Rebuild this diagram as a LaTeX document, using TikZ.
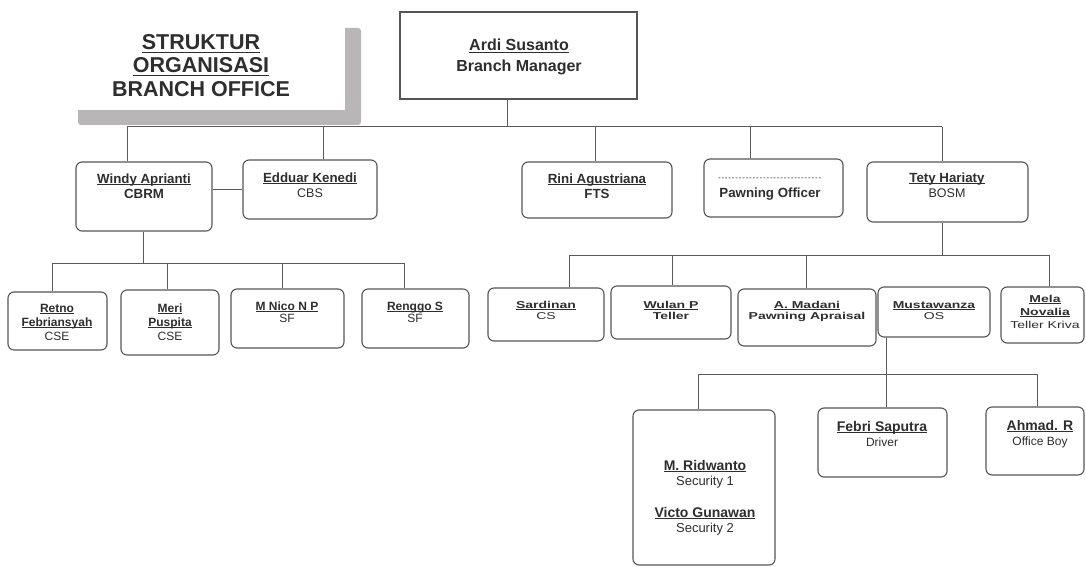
\documentclass[tikz,border=0pt]{standalone}
\usepackage{fontspec}
\setmainfont{Liberation Sans}
\newfontfamily\widefont{Liberation Sans}[FakeStretch=1.4]
\definecolor{boxc}{HTML}{555555}
\definecolor{linec}{HTML}{5A5A5A}
\definecolor{txtc}{HTML}{2E2E2E}
\definecolor{shadowc}{HTML}{B9B6B8}
\newcommand\orgbox[6][obox]{\node[#1, minimum width={(#5-#3)*1pt}, minimum height={(#6-#4)*1pt}] (#2) at ({(#3+#5)/2},{(#4+#6)/2}) {};}
\newcommand\dashrow{\foreach \i in {1,...,30}{-\kern0.8pt}}
\newsavebox{\myulbox}
\newcommand\myul[1]{\sbox\myulbox{#1}\rlap{\rule[-1.8pt]{\wd\myulbox}{0.75pt}}\usebox\myulbox}
\newcommand\myulbig[1]{\sbox\myulbox{#1}\rlap{\rule[-2.8pt]{\wd\myulbox}{1.1pt}}\usebox\myulbox}
\begin{document}
\begin{tikzpicture}[x=1pt,y=-1pt,
  obox/.style={draw=boxc, line width=1.1pt, rounded corners=6pt, inner sep=0pt},
  sbox/.style={draw=boxc, line width=1.1pt, inner sep=0pt},
  link/.style={draw=linec, line width=1pt},
  txt/.style={anchor=base, inner sep=0pt, text=txtc, align=center},
  ttl/.style={txt, font=\bfseries\fontsize{21.5}{24}\selectfont},
  mgr/.style={txt, font=\bfseries\fontsize{16}{18}\selectfont},
  lonen/.style={txt, font=\bfseries\fontsize{13.3}{15}\selectfont},
  loner/.style={txt, font=\fontsize{12.5}{15}\selectfont},
  ltwon/.style={txt, font=\bfseries\fontsize{12}{14}\selectfont},
  ltwor/.style={txt, font=\fontsize{12}{14}\selectfont},
  lrn/.style={txt, font=\widefont\bfseries\fontsize{10}{12}\selectfont},
  lrr/.style={txt, font=\widefont\fontsize{10}{12}\selectfont},
  lthn/.style={txt, font=\bfseries\fontsize{14}{16}\selectfont},
  lthr/.style={txt, font=\fontsize{13}{15}\selectfont}
]
\useasboundingbox (0,0) rectangle (1086,567);
\fill[white] (0,0) rectangle (1086,567);

% title with shadow
\fill[shadowc, rounded corners=3pt] (78,28) rectangle (361,125);
\fill[white] (64,16) rectangle (345,110);
\node[ttl] (t1) at (201,50) {\myulbig{STRUKTUR}};
\node[ttl] (t2) at (201,73) {\myulbig{ORGANISASI}};
\node[ttl] (t3) at (201,97) {BRANCH OFFICE};

% boxes
\orgbox[sbox]{ardi}{400}{12}{637}{99}
\orgbox{windy}{76}{162}{212}{231}
\orgbox{edduar}{243}{160}{377}{219}
\orgbox{rini}{522}{162}{672}{218}
\orgbox{pawn}{704}{159}{843}{217}
\orgbox{tety}{867}{162}{1028}{222}
\orgbox{retno}{8}{292}{107}{350}
\orgbox{meri}{121}{290}{219}{355}
\orgbox{nico}{231}{289}{344}{348}
\orgbox{renggo}{362}{289}{469}{348}
\orgbox{sardinan}{488}{288}{604}{341}
\orgbox{wulan}{611}{286}{731}{339}
\orgbox{madani}{738}{289}{876}{346}
\orgbox{musta}{878}{287}{990}{337}
\orgbox{mela}{1001}{287}{1084}{343}
\orgbox{ridwan}{633}{410}{775}{565}
\orgbox{febri}{818}{408}{947}{477}
\orgbox{ahmad}{986}{407}{1084}{475}

% texts
\node[mgr] (ardin) at (519,51) {\myul{Ardi Susanto}};
\node[mgr] (ardir) at (519,72) {Branch Manager};
\node[lonen] (windyn) at (144,183) {\myul{Windy Aprianti}};
\node[lonen] (windyr) at (144,198) {CBRM};
\node[lonen] (eddn) at (310,182) {\myul{Edduar Kenedi}};
\node[loner] (eddr) at (310,197) {CBS};
\node[lonen] (rinin) at (597,183) {\myul{Rini Agustriana}};
\node[lonen] (rinir) at (597,198) {FTS};
\node[txt, font=\fontsize{8}{9}\selectfont] (pawnd) at (770,180) {\dashrow};
\node[lonen] (pawnr) at (770,197) {Pawning Officer};
\node[lonen] (tetyn) at (947,182) {\myul{Tety Hariaty}};
\node[loner] (tetyr) at (947,197) {BOSM};

\node[ltwon] (retn1) at (57,312) {\myul{Retno}};
\node[ltwon] (retn2) at (57,326) {\myul{Febriansyah}};
\node[ltwor] (retr) at (57,340) {CSE};
\node[ltwon] (meri1) at (170,312) {\myul{Meri}};
\node[ltwon] (meri2) at (170,326) {\myul{Puspita}};
\node[ltwor] (merir) at (170,340) {CSE};
\node[ltwon] (nicon) at (287,310) {\myul{M Nico N P}};
\node[ltwor] (nicor) at (287,322) {SF};
\node[ltwon] (rengn) at (415,310) {\myul{Renggo S}};
\node[ltwor] (rengr) at (415,322) {SF};

\node[lrn] (sardn) at (546,308) {\myul{Sardinan}};
\node[lrr] (sardr) at (546,319) {CS};
\node[lrn] (wulann) at (671,308) {\myul{Wulan P}};
\node[lrn] (wulanr) at (671,319) {Teller};
\node[lrn] (madn) at (807,308) {\myul{A. Madani}};
\node[lrn] (madr) at (807,319) {Pawning Apraisal};
\node[lrn] (mustn) at (934,308) {\myul{Mustawanza}};
\node[lrr] (mustr) at (934,319) {OS};
\node[lrn] (mela1) at (1045,302) {\myul{Mela}};
\node[lrn] (mela2) at (1045,315) {\myul{Novalia}};
\node[lrr] (melar) at (1045,328) {Teller Kriva};

\node[lthn] (ridn) at (705,470) {\myul{M. Ridwanto}};
\node[lthr] (ridr) at (705,485) {Security 1};
\node[lthn] (victn) at (705,517) {\myul{Victo Gunawan}};
\node[lthr] (victr) at (705,532) {Security 2};
\node[lthn] (febn) at (882,431) {\myul{Febri Saputra}};
\node[lthr, font=\fontsize{12}{14}\selectfont] (febr) at (882,446) {Driver};
\node[lthn] (ahmn) at (1040,430) {\myul{Ahmad. R}};
\node[lthr, font=\fontsize{12}{14}\selectfont] (ahmr) at (1040,445) {Office Boy};

% connectors level 1
\coordinate (jtop) at (507,127);
\coordinate (busL) at (127,127);
\coordinate (busR) at (942,127);
\coordinate (dEdd) at (323,127);
\coordinate (dRini) at (595,127);
\coordinate (dPawn) at (750,127);
\coordinate (wlink) at (0,189);
\draw[link] (ardi.south -| jtop) -- (jtop);
\draw[link] (busL) -- (busR);
\draw[link] (busL) -- (windy.north -| busL);
\draw[link] (dEdd) -- (edduar.north -| dEdd);
\draw[link] (dRini) -- (rini.north -| dRini);
\draw[link] (dPawn) -- (pawn.north -| dPawn);
\draw[link] (busR) -- (tety.north -| busR);
\draw[link] (windy.east |- wlink) -- (edduar.west |- wlink);

% connectors level 2 left
\coordinate (lbusT) at (143,263);
\coordinate (lbusL) at (52,263);
\coordinate (lbusR) at (404,263);
\coordinate (dMeri) at (167,263);
\coordinate (dNico) at (282,263);
\draw[link] (windy.south -| lbusT) -- (lbusT);
\draw[link] (lbusL) -- (lbusR);
\draw[link] (lbusL) -- (retno.north -| lbusL);
\draw[link] (dMeri) -- (meri.north -| dMeri);
\draw[link] (dNico) -- (nico.north -| dNico);
\draw[link] (lbusR) -- (renggo.north -| lbusR);

% connectors level 2 right
\coordinate (rbusT) at (942,255);
\coordinate (rbusL) at (569,255);
\coordinate (rbusR) at (1049,255);
\coordinate (dWulan) at (672,255);
\coordinate (dMad) at (806,255);
\draw[link] (tety.south -| rbusT) -- (rbusT);
\draw[link] (rbusL) -- (rbusR);
\draw[link] (rbusL) -- (sardinan.north -| rbusL);
\draw[link] (dWulan) -- (wulan.north -| dWulan);
\draw[link] (dMad) -- (madani.north -| dMad);
\draw[link] (rbusR) -- (mela.north -| rbusR);

% connectors level 3
\coordinate (sbusT) at (886,374);
\coordinate (sbusL) at (698,374);
\coordinate (sbusR) at (1037,374);
\draw[link] (musta.south -| sbusT) -- (sbusT);
\draw[link] (sbusL) -- (sbusR);
\draw[link] (sbusL) -- (ridwan.north -| sbusL);
\draw[link] (sbusT) -- (febri.north -| sbusT);
\draw[link] (sbusR) -- (ahmad.north -| sbusR);
\end{tikzpicture}
\end{document}
